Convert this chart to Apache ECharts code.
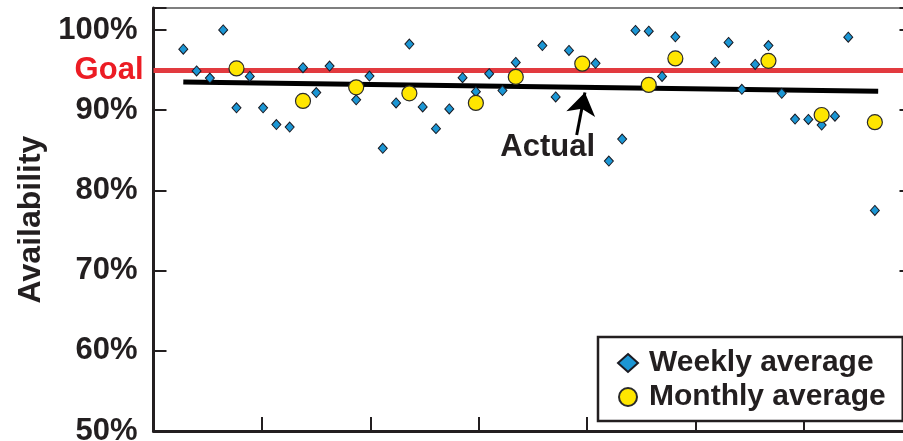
<!DOCTYPE html>
<html>
<head>
<meta charset="utf-8">
<title>Availability</title>
<script src="https://cdn.jsdelivr.net/npm/echarts@6/dist/echarts.min.js"></script>
<style>
  html, body { margin: 0; padding: 0; background: #ffffff; }
  #chart { width: 903px; height: 441px; }
</style>
</head>
<body>
<div id="chart"></div>
<script>
// Percent ticks shown on the availability axis
const yTicks = [50, 60, 70, 80, 90, 100];
const goal = 95;

// Weekly availability (%) by week number; weeks without a report are left out
const weeks = [0, 1, 2, 3, 4, 5, 6, 7, 8, 9, 10, 11,
  13, 14, 15, 16, 17, 18, 19, 20, 21, 22, 23, 24, 25,
  27, 28, 29,
  31, 32, 33, 34, 35, 36, 37,
  40, 41, 42, 43, 44, 45, 46, 47, 48, 49, 50,
  52];
const weeklyAvg = [97.6, 94.9, 94.0, 100.0, 90.3, 94.2, 90.3, 88.2, 87.9, 95.3, 92.2, 95.5,
  91.3, 94.25, 85.25, 90.9, 98.25, 90.4, 87.7, 90.15, 94.05, 92.3, 94.55, 92.45, 95.95,
  98.05, 91.65, 97.45,
  95.85, 83.65, 86.4, 99.95, 99.85, 94.2, 99.15,
  95.95, 98.45, 92.6, 95.7, 98.05, 92.1, 88.9, 88.85, 88.15, 89.25, 99.1,
  77.5];

// Monthly availability (%) placed at the week that closes each month
const monthWeeks = [4, 9, 13, 17, 22, 25, 30, 35, 37, 44, 48, 52];
const monthlyAvg = [95.2, 91.15, 92.85, 92.1, 90.9, 94.15, 95.8, 93.15, 96.45, 96.15, 89.4, 88.5];

// Fitted trend of the actual availability
const trendWeeks = [0, 52.25];
const trendValues = [93.5, 92.35];

// "Actual" callout: label anchor and arrow (tail -> tip), as [week, %]
const actualLabelAt = [27.4, 85.4];
const arrowTail = [29.58, 86.9];
const arrowTip = [30.2, 92.2];

// The time axis has one tick every WEEKS_PER_TICK weeks, starting WEEK_OFFSET weeks before week 0
const WEEK_OFFSET = 2.24;
const WEEKS_PER_TICK = 8.153;
const toAxis = w => (w + WEEK_OFFSET) / WEEKS_PER_TICK;

const ink = '#231f20';
const boldFont = {
  fontFamily: '"Liberation Sans", Arial, Helvetica, sans-serif',
  fontWeight: 'bold',
  fontSize: 31,
  color: ink
};

const chart = echarts.init(document.getElementById('chart'), null, { renderer: 'canvas' });

const option = {
  animation: false,
  backgroundColor: '#ffffff',
  grid: {
    left: 153.5, top: 8, width: 759, height: 423,
    outerBoundsMode: 'none', containLabel: false,
    show: true, borderColor: '#555555', borderWidth: 1.5, backgroundColor: 'transparent'
  },
  xAxis: {
    type: 'value', min: 0, max: 7, interval: 1,
    axisLine: { show: true, lineStyle: { color: ink, width: 3 } },
    axisTick: { show: true, inside: true, length: 14, lineStyle: { color: ink, width: 2 } },
    axisLabel: { show: false },
    splitLine: { show: false }
  },
  yAxis: [
    {
      type: 'value', min: 50, max: 102.74, interval: 10,
      name: 'Availability', nameLocation: 'middle', nameRotate: 90, nameGap: 106,
      nameTextStyle: Object.assign({}, boldFont, { fontSize: 32, letterSpacing: 1 }),
      axisLine: { show: true, lineStyle: { color: ink, width: 3 } },
      axisTick: { show: true, inside: true, length: 13, lineStyle: { color: ink, width: 2 } },
      axisLabel: Object.assign({}, boldFont, {
        margin: 16,
        formatter: v => (yTicks.indexOf(v) >= 0 ? v + '%' : '')
      }),
      splitLine: { show: false }
    },
    {
      type: 'value', position: 'right', min: 50, max: 102.74, interval: 10,
      axisLine: { show: true, lineStyle: { color: ink, width: 2 } },
      axisTick: { show: true, inside: true, length: 13, lineStyle: { color: ink, width: 2 } },
      axisLabel: { show: false },
      splitLine: { show: false }
    }
  ],
  legend: {
    data: ['Weekly average', 'Monthly average'],
    orient: 'vertical', left: 598, top: 337,
    padding: [11, 17, 9, 19], itemGap: 4,
    itemWidth: 20, itemHeight: 18,
    backgroundColor: '#ffffff', borderColor: ink, borderWidth: 2.5, borderRadius: 0,
    selectedMode: false, z: 20,
    textStyle: Object.assign({}, boldFont, { fontSize: 30, lineHeight: 30, padding: [0, 0, 0, 6] })
  },
  series: [
    {
      name: 'Goal', type: 'line', data: [], z: 1, silent: true,
      markLine: {
        silent: true, z: 1, symbol: 'none',
        lineStyle: { color: '#e23a3f', width: 5, type: 'solid' },
        label: Object.assign({}, boldFont, {
          show: true, position: 'start', distance: 10, color: '#ec1c24',
          formatter: 'Goal'
        }),
        emphasis: { disabled: true },
        data: [{ yAxis: goal }]
      }
    },
    {
      name: 'Actual', type: 'line', z: 2, silent: true,
      data: trendWeeks.map((w, i) => [toAxis(w), trendValues[i]]),
      symbol: 'none',
      lineStyle: { color: '#000000', width: 5 },
      markLine: {
        silent: true, z: 2,
        symbol: ['none', 'arrow'], symbolSize: 22,
        lineStyle: { color: '#000000', width: 3, type: 'solid' },
        itemStyle: { color: '#000000' },
        label: { show: false },
        emphasis: { disabled: true },
        data: [[
          { coord: [toAxis(arrowTail[0]), arrowTail[1]] },
          { coord: [toAxis(arrowTip[0]), arrowTip[1]] }
        ]]
      }
    },
    {
      name: 'Actual label', type: 'scatter', z: 2, silent: true,
      data: [[toAxis(actualLabelAt[0]), actualLabelAt[1]]],
      symbolSize: 0,
      itemStyle: { color: ink, opacity: 1 },
      label: Object.assign({}, boldFont, { show: true, position: 'inside', formatter: 'Actual', color: ink })
    },
    {
      name: 'Weekly average', type: 'scatter', z: 3,
      data: weeks.map((w, i) => [toAxis(w), weeklyAvg[i]]),
      symbol: 'diamond', symbolSize: [9, 10],
      itemStyle: { color: '#1b96d4', borderColor: '#1a1a22', borderWidth: 1, opacity: 1 }
    },
    {
      name: 'Monthly average', type: 'scatter', z: 4,
      data: monthWeeks.map((w, i) => [toAxis(w), monthlyAvg[i]]),
      symbol: 'circle', symbolSize: 15,
      itemStyle: { color: '#ffe600', borderColor: '#2a2a2a', borderWidth: 1.2, opacity: 1 }
    }
  ]
};

chart.setOption(option);
</script>
</body>
</html>
